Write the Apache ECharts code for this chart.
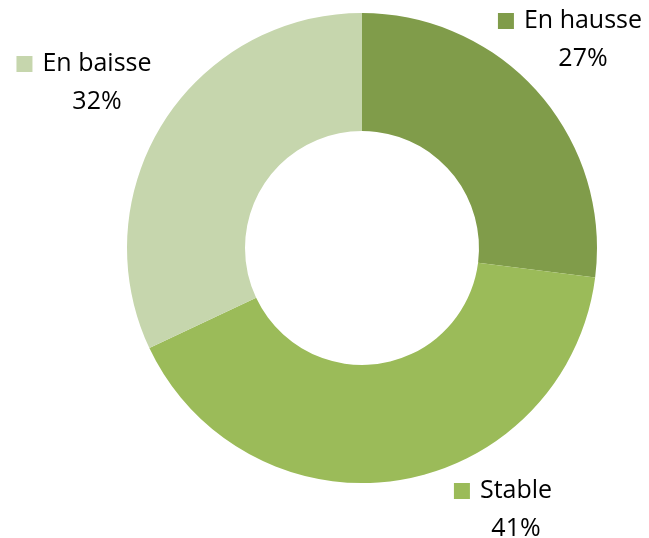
<!DOCTYPE html>
<html><head><meta charset="utf-8">
<script src="https://cdn.jsdelivr.net/npm/echarts@6/dist/echarts.min.js"></script>
<style>html,body{margin:0;padding:0;background:#fff}#c{width:649px;height:538px}</style>
</head><body><div id="c"></div>
<script>
const categories = ['En hausse', 'Stable', 'En baisse'];
const values = [27, 41, 32];
const colors = ['#809C4A', '#9BBB59', '#C6D6AD'];

const labelSpots = [[570, 40], [503, 510], [84, 83]];

const chart = echarts.init(document.getElementById('c'));
const data = categories.map((name, i) => ({
  name, value: values[i],
  itemStyle: { color: colors[i] },
  label: { rich: { sq: { width: 16, height: 16, backgroundColor: colors[i] } } }
}));
chart.setOption({
  animation: false,
  series: [{
    type: 'pie',
    center: [362, 248],
    radius: [117, 235],
    startAngle: 90,
    clockwise: true,
    itemStyle: { borderWidth: 0 },
    labelLine: { show: false },
    label: {
      show: true,
      position: 'outside',
      alignTo: 'none',
      overflow: 'none',
      width: 300,
      formatter: '{sq|}{gap|}{nm|{b}}\n{pad|}{nm|{d}%}',
      rich: {
        sq: { width: 16, height: 16 },
        gap: { width: 10 },
        pad: { width: 26 },
        nm: { fontFamily: 'Open Sans', fontSize: 25, color: '#000', lineHeight: 38 }
      }
    },
    labelLayout: (p) => ({ x: labelSpots[p.dataIndex][0], y: labelSpots[p.dataIndex][1], align: 'center', verticalAlign: 'middle' }),
    data
  }]
});
</script></body></html>
